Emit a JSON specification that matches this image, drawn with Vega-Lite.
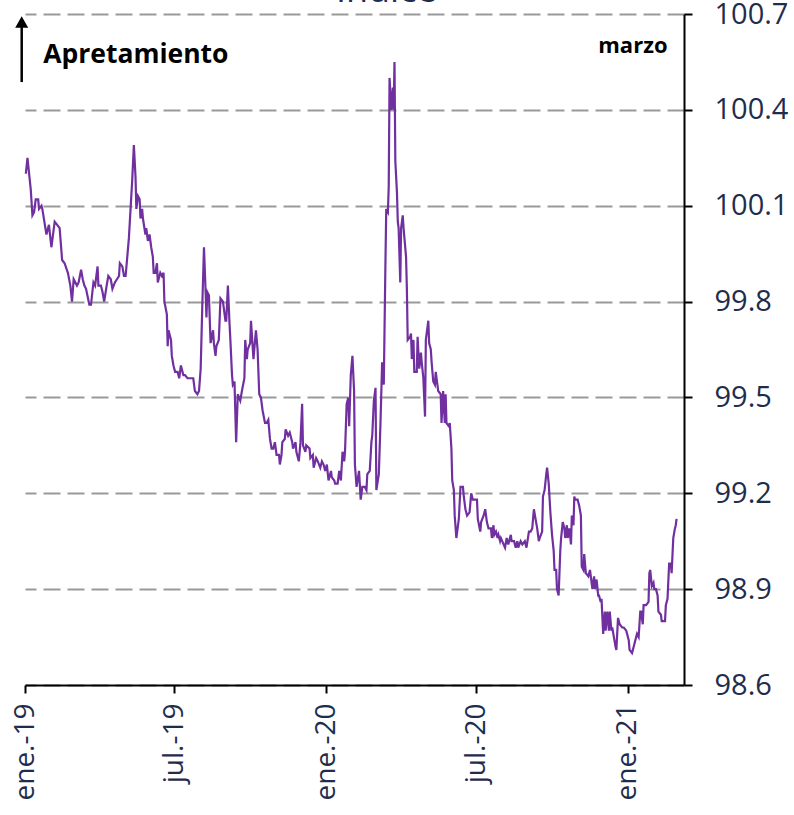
{
  "$schema": "https://vega.github.io/schema/vega-lite/v6.json",
  "autosize": "none",
  "width": 659,
  "height": 671,
  "padding": {"left": 25, "top": 14, "right": 110, "bottom": 130},
  "config": {"view": {"stroke": null}, "font": "Open Sans"},
  "layer": [
    {
      "data": {"values": [
{"fecha":"2019-01-02","indice":100.20},{"fecha":"2019-01-04","indice":100.25},{"fecha":"2019-01-08","indice":100.15},{"fecha":"2019-01-10","indice":100.07},{"fecha":"2019-01-12","indice":100.08},{"fecha":"2019-01-14","indice":100.12},{"fecha":"2019-01-17","indice":100.12},{"fecha":"2019-01-18","indice":100.09},{"fecha":"2019-01-21","indice":100.10},{"fecha":"2019-01-22","indice":100.09},{"fecha":"2019-01-27","indice":100.01},{"fecha":"2019-01-30","indice":100.04},
{"fecha":"2019-02-02","indice":99.97},{"fecha":"2019-02-06","indice":100.05},{"fecha":"2019-02-09","indice":100.04},{"fecha":"2019-02-12","indice":100.03},{"fecha":"2019-02-15","indice":99.93},{"fecha":"2019-02-18","indice":99.92},{"fecha":"2019-02-22","indice":99.89},{"fecha":"2019-02-25","indice":99.85},{"fecha":"2019-02-27","indice":99.80},
{"fecha":"2019-03-01","indice":99.87},{"fecha":"2019-03-05","indice":99.85},{"fecha":"2019-03-07","indice":99.86},{"fecha":"2019-03-10","indice":99.90},{"fecha":"2019-03-12","indice":99.87},{"fecha":"2019-03-14","indice":99.85},{"fecha":"2019-03-16","indice":99.84},{"fecha":"2019-03-20","indice":99.79},{"fecha":"2019-03-22","indice":99.79},{"fecha":"2019-03-25","indice":99.86},{"fecha":"2019-03-27","indice":99.85},{"fecha":"2019-03-30","indice":99.91},{"fecha":"2019-03-31","indice":99.85},
{"fecha":"2019-04-03","indice":99.85},{"fecha":"2019-04-05","indice":99.83},{"fecha":"2019-04-07","indice":99.80},{"fecha":"2019-04-10","indice":99.85},{"fecha":"2019-04-12","indice":99.88},{"fecha":"2019-04-15","indice":99.87},{"fecha":"2019-04-17","indice":99.84},{"fecha":"2019-04-20","indice":99.86},{"fecha":"2019-04-25","indice":99.88},{"fecha":"2019-04-26","indice":99.92},{"fecha":"2019-04-29","indice":99.91},
{"fecha":"2019-05-01","indice":99.88},{"fecha":"2019-05-03","indice":99.88},{"fecha":"2019-05-07","indice":100.00},{"fecha":"2019-05-11","indice":100.18},{"fecha":"2019-05-13","indice":100.29},{"fecha":"2019-05-15","indice":100.19},{"fecha":"2019-05-16","indice":100.09},{"fecha":"2019-05-18","indice":100.13},{"fecha":"2019-05-20","indice":100.12},{"fecha":"2019-05-21","indice":100.06},{"fecha":"2019-05-23","indice":100.09},{"fecha":"2019-05-24","indice":100.06},{"fecha":"2019-05-27","indice":100.01},{"fecha":"2019-05-28","indice":100.03},{"fecha":"2019-05-30","indice":99.99},
{"fecha":"2019-06-01","indice":100.01},{"fecha":"2019-06-03","indice":99.97},{"fecha":"2019-06-05","indice":99.94},{"fecha":"2019-06-06","indice":99.89},{"fecha":"2019-06-08","indice":99.89},{"fecha":"2019-06-10","indice":99.92},{"fecha":"2019-06-11","indice":99.86},{"fecha":"2019-06-14","indice":99.89},{"fecha":"2019-06-16","indice":99.88},{"fecha":"2019-06-18","indice":99.89},{"fecha":"2019-06-19","indice":99.80},{"fecha":"2019-06-22","indice":99.76},{"fecha":"2019-06-23","indice":99.66},{"fecha":"2019-06-24","indice":99.71},{"fecha":"2019-06-27","indice":99.68},{"fecha":"2019-06-28","indice":99.63},{"fecha":"2019-06-30","indice":99.60},
{"fecha":"2019-07-02","indice":99.58},{"fecha":"2019-07-05","indice":99.58},{"fecha":"2019-07-07","indice":99.56},{"fecha":"2019-07-09","indice":99.60},{"fecha":"2019-07-12","indice":99.57},{"fecha":"2019-07-14","indice":99.57},{"fecha":"2019-07-17","indice":99.56},{"fecha":"2019-07-20","indice":99.56},{"fecha":"2019-07-24","indice":99.56},{"fecha":"2019-07-26","indice":99.52},{"fecha":"2019-07-29","indice":99.51},{"fecha":"2019-07-31","indice":99.52},
{"fecha":"2019-08-02","indice":99.59},{"fecha":"2019-08-04","indice":99.79},{"fecha":"2019-08-06","indice":99.97},{"fecha":"2019-08-08","indice":99.83},{"fecha":"2019-08-09","indice":99.75},{"fecha":"2019-08-10","indice":99.83},{"fecha":"2019-08-12","indice":99.82},{"fecha":"2019-08-14","indice":99.67},{"fecha":"2019-08-17","indice":99.71},{"fecha":"2019-08-18","indice":99.67},{"fecha":"2019-08-20","indice":99.63},{"fecha":"2019-08-21","indice":99.66},{"fecha":"2019-08-24","indice":99.68},{"fecha":"2019-08-26","indice":99.81},{"fecha":"2019-08-29","indice":99.80},
{"fecha":"2019-09-01","indice":99.74},{"fecha":"2019-09-02","indice":99.74},{"fecha":"2019-09-04","indice":99.85},{"fecha":"2019-09-06","indice":99.73},{"fecha":"2019-09-07","indice":99.68},{"fecha":"2019-09-09","indice":99.57},{"fecha":"2019-09-10","indice":99.54},{"fecha":"2019-09-12","indice":99.55},{"fecha":"2019-09-14","indice":99.36},{"fecha":"2019-09-16","indice":99.51},{"fecha":"2019-09-19","indice":99.49},{"fecha":"2019-09-21","indice":99.52},{"fecha":"2019-09-24","indice":99.56},{"fecha":"2019-09-25","indice":99.68},{"fecha":"2019-09-27","indice":99.62},{"fecha":"2019-09-28","indice":99.65},
{"fecha":"2019-10-01","indice":99.67},{"fecha":"2019-10-02","indice":99.74},{"fecha":"2019-10-05","indice":99.62},{"fecha":"2019-10-06","indice":99.65},{"fecha":"2019-10-08","indice":99.71},{"fecha":"2019-10-10","indice":99.65},{"fecha":"2019-10-12","indice":99.51},{"fecha":"2019-10-14","indice":99.50},{"fecha":"2019-10-16","indice":99.46},{"fecha":"2019-10-19","indice":99.42},{"fecha":"2019-10-21","indice":99.42},{"fecha":"2019-10-23","indice":99.43},{"fecha":"2019-10-25","indice":99.37},{"fecha":"2019-10-27","indice":99.34},{"fecha":"2019-10-29","indice":99.34},{"fecha":"2019-10-31","indice":99.36},
{"fecha":"2019-11-02","indice":99.32},{"fecha":"2019-11-05","indice":99.32},{"fecha":"2019-11-06","indice":99.29},{"fecha":"2019-11-08","indice":99.32},{"fecha":"2019-11-09","indice":99.36},{"fecha":"2019-11-12","indice":99.37},{"fecha":"2019-11-13","indice":99.40},{"fecha":"2019-11-16","indice":99.38},{"fecha":"2019-11-18","indice":99.39},{"fecha":"2019-11-21","indice":99.36},{"fecha":"2019-11-22","indice":99.34},{"fecha":"2019-11-25","indice":99.36},{"fecha":"2019-11-26","indice":99.33},{"fecha":"2019-11-29","indice":99.30},
{"fecha":"2019-12-01","indice":99.36},{"fecha":"2019-12-03","indice":99.48},{"fecha":"2019-12-04","indice":99.35},{"fecha":"2019-12-07","indice":99.33},{"fecha":"2019-12-08","indice":99.35},{"fecha":"2019-12-12","indice":99.34},{"fecha":"2019-12-13","indice":99.31},{"fecha":"2019-12-16","indice":99.32},{"fecha":"2019-12-17","indice":99.28},{"fecha":"2019-12-20","indice":99.31},{"fecha":"2019-12-22","indice":99.30},{"fecha":"2019-12-25","indice":99.28},{"fecha":"2019-12-27","indice":99.30},{"fecha":"2019-12-29","indice":99.29},{"fecha":"2019-12-31","indice":99.27},
{"fecha":"2020-01-02","indice":99.29},{"fecha":"2020-01-04","indice":99.24},{"fecha":"2020-01-07","indice":99.27},{"fecha":"2020-01-08","indice":99.25},{"fecha":"2020-01-11","indice":99.24},{"fecha":"2020-01-12","indice":99.23},{"fecha":"2020-01-15","indice":99.23},{"fecha":"2020-01-17","indice":99.27},{"fecha":"2020-01-19","indice":99.24},{"fecha":"2020-01-21","indice":99.33},{"fecha":"2020-01-23","indice":99.30},{"fecha":"2020-01-24","indice":99.33},{"fecha":"2020-01-26","indice":99.48},{"fecha":"2020-01-28","indice":99.50},{"fecha":"2020-01-29","indice":99.41},{"fecha":"2020-01-31","indice":99.57},
{"fecha":"2020-02-02","indice":99.63},{"fecha":"2020-02-04","indice":99.52},{"fecha":"2020-02-05","indice":99.29},{"fecha":"2020-02-07","indice":99.22},{"fecha":"2020-02-10","indice":99.27},{"fecha":"2020-02-12","indice":99.18},{"fecha":"2020-02-14","indice":99.22},{"fecha":"2020-02-17","indice":99.22},{"fecha":"2020-02-19","indice":99.21},{"fecha":"2020-02-20","indice":99.26},{"fecha":"2020-02-23","indice":99.27},{"fecha":"2020-02-25","indice":99.36},{"fecha":"2020-02-26","indice":99.38},{"fecha":"2020-02-28","indice":99.49},
{"fecha":"2020-03-01","indice":99.53},{"fecha":"2020-03-02","indice":99.21},{"fecha":"2020-03-05","indice":99.26},{"fecha":"2020-03-07","indice":99.42},{"fecha":"2020-03-09","indice":99.61},{"fecha":"2020-03-11","indice":99.54},{"fecha":"2020-03-13","indice":99.92},{"fecha":"2020-03-14","indice":100.09},{"fecha":"2020-03-16","indice":100.08},{"fecha":"2020-03-17","indice":100.16},{"fecha":"2020-03-18","indice":100.50},{"fecha":"2020-03-20","indice":100.40},{"fecha":"2020-03-22","indice":100.47},{"fecha":"2020-03-23","indice":100.40},{"fecha":"2020-03-24","indice":100.55},{"fecha":"2020-03-25","indice":100.24},{"fecha":"2020-03-27","indice":100.14},{"fecha":"2020-03-28","indice":100.05},{"fecha":"2020-03-29","indice":100.03},{"fecha":"2020-03-31","indice":99.86},
{"fecha":"2020-04-01","indice":100.03},{"fecha":"2020-04-03","indice":100.07},{"fecha":"2020-04-04","indice":100.03},{"fecha":"2020-04-07","indice":99.94},{"fecha":"2020-04-08","indice":99.84},{"fecha":"2020-04-09","indice":99.68},{"fecha":"2020-04-12","indice":99.69},{"fecha":"2020-04-13","indice":99.70},{"fecha":"2020-04-14","indice":99.62},{"fecha":"2020-04-16","indice":99.68},{"fecha":"2020-04-17","indice":99.58},{"fecha":"2020-04-20","indice":99.58},{"fecha":"2020-04-21","indice":99.69},{"fecha":"2020-04-23","indice":99.59},{"fecha":"2020-04-25","indice":99.64},{"fecha":"2020-04-26","indice":99.61},{"fecha":"2020-04-28","indice":99.56},{"fecha":"2020-04-30","indice":99.44},
{"fecha":"2020-05-01","indice":99.68},{"fecha":"2020-05-04","indice":99.74},{"fecha":"2020-05-05","indice":99.67},{"fecha":"2020-05-07","indice":99.65},{"fecha":"2020-05-08","indice":99.61},{"fecha":"2020-05-10","indice":99.55},{"fecha":"2020-05-12","indice":99.54},{"fecha":"2020-05-13","indice":99.58},{"fecha":"2020-05-15","indice":99.54},{"fecha":"2020-05-16","indice":99.52},{"fecha":"2020-05-19","indice":99.51},{"fecha":"2020-05-20","indice":99.42},{"fecha":"2020-05-22","indice":99.52},{"fecha":"2020-05-24","indice":99.42},{"fecha":"2020-05-25","indice":99.51},{"fecha":"2020-05-26","indice":99.42},{"fecha":"2020-05-29","indice":99.41},{"fecha":"2020-05-30","indice":99.42},
{"fecha":"2020-06-01","indice":99.34},{"fecha":"2020-06-02","indice":99.24},{"fecha":"2020-06-04","indice":99.21},{"fecha":"2020-06-05","indice":99.13},{"fecha":"2020-06-07","indice":99.06},{"fecha":"2020-06-10","indice":99.12},{"fecha":"2020-06-12","indice":99.22},{"fecha":"2020-06-15","indice":99.22},{"fecha":"2020-06-16","indice":99.19},{"fecha":"2020-06-18","indice":99.15},{"fecha":"2020-06-20","indice":99.13},{"fecha":"2020-06-23","indice":99.14},{"fecha":"2020-06-25","indice":99.20},{"fecha":"2020-06-27","indice":99.18},
{"fecha":"2020-07-02","indice":99.18},{"fecha":"2020-07-03","indice":99.12},{"fecha":"2020-07-06","indice":99.08},{"fecha":"2020-07-07","indice":99.11},{"fecha":"2020-07-10","indice":99.13},{"fecha":"2020-07-12","indice":99.15},{"fecha":"2020-07-14","indice":99.11},{"fecha":"2020-07-16","indice":99.09},{"fecha":"2020-07-19","indice":99.09},{"fecha":"2020-07-20","indice":99.06},{"fecha":"2020-07-22","indice":99.10},{"fecha":"2020-07-23","indice":99.07},{"fecha":"2020-07-25","indice":99.08},{"fecha":"2020-07-27","indice":99.06},{"fecha":"2020-07-28","indice":99.07},{"fecha":"2020-07-30","indice":99.05},{"fecha":"2020-07-31","indice":99.06},
{"fecha":"2020-08-05","indice":99.03},{"fecha":"2020-08-07","indice":99.06},{"fecha":"2020-08-09","indice":99.04},{"fecha":"2020-08-12","indice":99.07},{"fecha":"2020-08-13","indice":99.05},{"fecha":"2020-08-16","indice":99.05},{"fecha":"2020-08-18","indice":99.03},{"fecha":"2020-08-20","indice":99.05},{"fecha":"2020-08-21","indice":99.03},{"fecha":"2020-08-24","indice":99.05},{"fecha":"2020-08-26","indice":99.04},{"fecha":"2020-08-29","indice":99.05},{"fecha":"2020-08-31","indice":99.03},
{"fecha":"2020-09-03","indice":99.08},{"fecha":"2020-09-05","indice":99.08},{"fecha":"2020-09-07","indice":99.09},{"fecha":"2020-09-09","indice":99.15},{"fecha":"2020-09-11","indice":99.12},{"fecha":"2020-09-13","indice":99.09},{"fecha":"2020-09-15","indice":99.05},{"fecha":"2020-09-16","indice":99.06},{"fecha":"2020-09-19","indice":99.08},{"fecha":"2020-09-20","indice":99.19},{"fecha":"2020-09-22","indice":99.21},{"fecha":"2020-09-24","indice":99.26},{"fecha":"2020-09-25","indice":99.28},{"fecha":"2020-09-27","indice":99.23},{"fecha":"2020-09-29","indice":99.14},
{"fecha":"2020-10-01","indice":99.07},{"fecha":"2020-10-03","indice":99.02},{"fecha":"2020-10-04","indice":98.96},{"fecha":"2020-10-06","indice":98.96},{"fecha":"2020-10-07","indice":98.90},{"fecha":"2020-10-09","indice":98.88},{"fecha":"2020-10-11","indice":99.02},{"fecha":"2020-10-12","indice":99.06},{"fecha":"2020-10-14","indice":99.11},{"fecha":"2020-10-16","indice":99.09},{"fecha":"2020-10-17","indice":99.06},{"fecha":"2020-10-19","indice":99.10},{"fecha":"2020-10-20","indice":99.06},{"fecha":"2020-10-22","indice":99.09},{"fecha":"2020-10-24","indice":99.04},{"fecha":"2020-10-25","indice":99.13},{"fecha":"2020-10-27","indice":99.10},{"fecha":"2020-10-28","indice":99.19},{"fecha":"2020-10-29","indice":99.18},
{"fecha":"2020-11-01","indice":99.18},{"fecha":"2020-11-03","indice":99.16},{"fecha":"2020-11-05","indice":99.13},{"fecha":"2020-11-06","indice":98.97},{"fecha":"2020-11-08","indice":98.96},{"fecha":"2020-11-09","indice":99.01},{"fecha":"2020-11-11","indice":98.95},{"fecha":"2020-11-14","indice":98.94},{"fecha":"2020-11-16","indice":98.96},{"fecha":"2020-11-18","indice":98.92},{"fecha":"2020-11-19","indice":98.90},{"fecha":"2020-11-21","indice":98.94},{"fecha":"2020-11-22","indice":98.90},{"fecha":"2020-11-24","indice":98.93},{"fecha":"2020-11-26","indice":98.88},{"fecha":"2020-11-27","indice":98.88},{"fecha":"2020-11-29","indice":98.86},{"fecha":"2020-11-30","indice":98.87},
{"fecha":"2020-12-02","indice":98.76},{"fecha":"2020-12-04","indice":98.83},{"fecha":"2020-12-05","indice":98.77},{"fecha":"2020-12-07","indice":98.83},{"fecha":"2020-12-09","indice":98.77},{"fecha":"2020-12-10","indice":98.83},{"fecha":"2020-12-12","indice":98.77},{"fecha":"2020-12-13","indice":98.78},{"fecha":"2020-12-15","indice":98.75},{"fecha":"2020-12-17","indice":98.72},{"fecha":"2020-12-18","indice":98.71},{"fecha":"2020-12-20","indice":98.81},{"fecha":"2020-12-22","indice":98.79},{"fecha":"2020-12-25","indice":98.78},{"fecha":"2020-12-27","indice":98.78},{"fecha":"2020-12-30","indice":98.77},
{"fecha":"2021-01-02","indice":98.74},{"fecha":"2021-01-03","indice":98.71},{"fecha":"2021-01-06","indice":98.70},{"fecha":"2021-01-08","indice":98.72},{"fecha":"2021-01-10","indice":98.74},{"fecha":"2021-01-12","indice":98.76},{"fecha":"2021-01-14","indice":98.75},{"fecha":"2021-01-16","indice":98.83},{"fecha":"2021-01-17","indice":98.83},{"fecha":"2021-01-19","indice":98.79},{"fecha":"2021-01-20","indice":98.85},{"fecha":"2021-01-23","indice":98.85},{"fecha":"2021-01-26","indice":98.86},{"fecha":"2021-01-27","indice":98.95},{"fecha":"2021-01-28","indice":98.96},{"fecha":"2021-01-30","indice":98.91},
{"fecha":"2021-02-01","indice":98.92},{"fecha":"2021-02-02","indice":98.90},{"fecha":"2021-02-04","indice":98.90},{"fecha":"2021-02-06","indice":98.88},{"fecha":"2021-02-07","indice":98.83},{"fecha":"2021-02-10","indice":98.82},{"fecha":"2021-02-11","indice":98.80},{"fecha":"2021-02-15","indice":98.80},{"fecha":"2021-02-16","indice":98.85},{"fecha":"2021-02-18","indice":98.87},{"fecha":"2021-02-20","indice":98.98},{"fecha":"2021-02-22","indice":98.98},{"fecha":"2021-02-23","indice":98.95},{"fecha":"2021-02-25","indice":99.06},{"fecha":"2021-02-27","indice":99.09},{"fecha":"2021-02-28","indice":99.10},{"fecha":"2021-03-01","indice":99.12}
      ]},
      "mark": {"type": "line", "color": "#7030A0", "strokeWidth": 2.2, "clip": false},
      "encoding": {
        "x": {
          "field": "fecha", "type": "temporal",
          "scale": {"type": "utc", "domain": [{"year": 2019, "month": 1, "date": 1, "utc": true}, {"year": 2021, "month": 3, "date": 10, "utc": true}], "nice": false},
          "axis": {
            "title": null,
            "values": [
              {"year": 2019, "month": 1, "date": 1, "utc": true},
              {"year": 2019, "month": 7, "date": 1, "utc": true},
              {"year": 2020, "month": 1, "date": 1, "utc": true},
              {"year": 2020, "month": 7, "date": 1, "utc": true},
              {"year": 2021, "month": 1, "date": 1, "utc": true}
            ],
            "labelExpr": "(utcmonth(datum.value) == 0 ? 'ene.' : 'jul.') + '-' + utcFormat(datum.value, '%y')",
            "labelAngle": -90,
            "labelAlign": "right",
            "labelBaseline": "middle",
            "labelFont": "Open Sans",
            "labelFontSize": 28,
            "labelColor": "#1F2D4D",
            "labelPadding": 10,
            "labelOverlap": false,
            "labelFlush": false,
            "grid": false,
            "domainColor": "#000000",
            "domainWidth": 2,
            "tickColor": "#000000",
            "tickWidth": 2,
            "tickSize": 8
          }
        },
        "y": {
          "field": "indice", "type": "quantitative",
          "scale": {"domain": [98.6, 100.7], "zero": false, "nice": false},
          "axis": {
            "orient": "right",
            "title": null,
            "values": [98.6, 98.9, 99.2, 99.5, 99.8, 100.1, 100.4, 100.7],
            "format": ".1f",
            "labelFont": "Open Sans",
            "labelFontSize": 29,
            "labelColor": "#1F2D4D",
            "labelPadding": 22,
            "labelOverlap": false,
            "labelFlush": false,
            "grid": true,
            "gridColor": "#999999",
            "gridWidth": 2,
            "gridDash": [17, 7],
            "domainColor": "#000000",
            "domainWidth": 2,
            "tickColor": "#000000",
            "tickWidth": 2,
            "tickSize": 8
          }
        }
      }
    },
    {
      "data": {"values": [{}]},
      "mark": {"type": "text", "font": "Open Sans", "fontSize": 26.5, "fontWeight": "bold", "color": "#000000", "align": "left", "baseline": "alphabetic"},
      "encoding": {
        "x": {"datum": {"year": 2019, "month": 1, "date": 23, "utc": true}, "type": "temporal"},
        "y": {"datum": 100.547, "type": "quantitative"},
        "text": {"value": "Apretamiento"}
      }
    },
    {
      "data": {"values": [{}]},
      "mark": {"type": "text", "font": "Open Sans", "fontSize": 22, "fontWeight": "bold", "color": "#000000", "align": "right", "baseline": "alphabetic"},
      "encoding": {
        "x": {"datum": {"year": 2021, "month": 2, "date": 18, "utc": true}, "type": "temporal"},
        "y": {"datum": 100.578, "type": "quantitative"},
        "text": {"value": "marzo"}
      }
    },
    {
      "data": {"values": [{}]},
      "mark": {"type": "text", "font": "Open Sans", "fontSize": 36, "color": "#1F2D4D", "align": "center", "baseline": "alphabetic"},
      "encoding": {
        "x": {"datum": {"year": 2020, "month": 3, "date": 14, "utc": true}, "type": "temporal"},
        "y": {"datum": 100.736, "type": "quantitative"},
        "text": {"value": "Índice"}
      }
    },
    {
      "data": {"values": [{}]},
      "mark": {"type": "rule", "color": "#000000", "strokeWidth": 2.5},
      "encoding": {
        "x": {"datum": {"year": 2018, "month": 12, "date": 28, "utc": true}, "type": "temporal"},
        "y": {"datum": 100.487, "type": "quantitative"},
        "y2": {"datum": 100.66}
      }
    },
    {
      "data": {"values": [{}]},
      "mark": {"type": "point", "shape": "triangle-up", "filled": true, "color": "#000000", "size": 170, "opacity": 1},
      "encoding": {
        "x": {"datum": {"year": 2018, "month": 12, "date": 28, "utc": true}, "type": "temporal"},
        "y": {"datum": 100.675, "type": "quantitative"}
      }
    }
  ]
}
